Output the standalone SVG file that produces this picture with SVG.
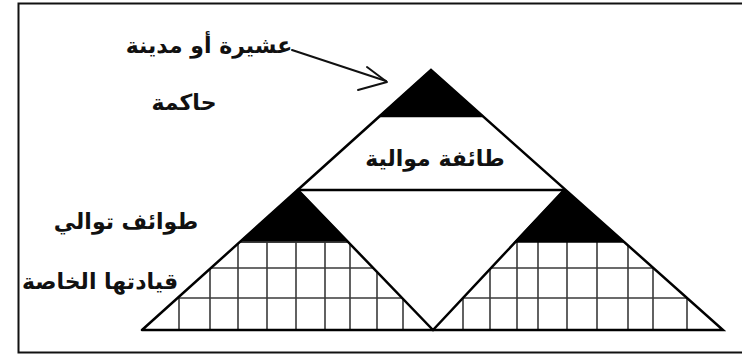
<svg xmlns="http://www.w3.org/2000/svg" width="742" height="355" viewBox="0 0 742 355">
<style>
.edge{fill:none;stroke:#000;stroke-width:2.5;stroke-linejoin:miter;stroke-linecap:round}
.cap{fill:#000;stroke:#000;stroke-width:1.5;stroke-linejoin:miter}
.grid{stroke:#3a3a3a;stroke-width:1.6;fill:none}
.lbl{font-family:"DejaVu Sans","Noto Sans",sans-serif;font-weight:bold;font-size:22px;fill:#111;text-anchor:middle}
.conn{fill:none;stroke:#111;stroke-width:2;stroke-linecap:round;stroke-linejoin:round}
</style>
<defs>
<clipPath id="clipL"><polygon points="239,242 348,242 433,330 142,330"/></clipPath>
<clipPath id="clipR"><polygon points="515,242 624,242 723,330 433,330"/></clipPath>
</defs>
<rect x="18.5" y="3.5" width="740" height="349" fill="#fff" stroke="#111" stroke-width="2"/>

<g id="left-pyramid">
<g clip-path="url(#clipL)" class="grid">
<line x1="130" y1="268" x2="440" y2="268"/>
<line x1="130" y1="298" x2="440" y2="298"/>
<line x1="179" y1="240" x2="179" y2="332"/>
<line x1="210" y1="240" x2="210" y2="332"/>
<line x1="238" y1="240" x2="238" y2="332"/>
<line x1="267" y1="240" x2="267" y2="332"/>
<line x1="296" y1="240" x2="296" y2="332"/>
<line x1="325" y1="240" x2="325" y2="332"/>
<line x1="350" y1="240" x2="350" y2="332"/>
<line x1="377" y1="240" x2="377" y2="332"/>
<line x1="403" y1="240" x2="403" y2="332"/>
</g>
<polygon class="cap" points="298,190 348,242 240,242"/>
<line class="grid" x1="240" y1="242" x2="348" y2="242"/>
</g>

<g id="right-pyramid">
<g clip-path="url(#clipR)" class="grid">
<line x1="420" y1="268" x2="730" y2="268"/>
<line x1="420" y1="298" x2="730" y2="298"/>
<line x1="463" y1="240" x2="463" y2="332"/>
<line x1="490" y1="240" x2="490" y2="332"/>
<line x1="517" y1="240" x2="517" y2="332"/>
<line x1="538" y1="240" x2="538" y2="332"/>
<line x1="567" y1="240" x2="567" y2="332"/>
<line x1="597" y1="240" x2="597" y2="332"/>
<line x1="628" y1="240" x2="628" y2="332"/>
<line x1="653" y1="240" x2="653" y2="332"/>
<line x1="687" y1="240" x2="687" y2="332"/>
</g>
<polygon class="cap" points="564,190 624,242 515,242"/>
</g>

<g id="top-cap">
<polygon class="cap" points="431,70 482,116 380,116"/>
<line class="edge" x1="380" y1="116" x2="482" y2="116"/>
</g>

<g id="middle-band">
<line class="edge" x1="298" y1="190" x2="564" y2="190"/>
</g>

<g id="outline">
<polyline class="edge" points="142,330 431,70 723,330 142,330"/>
<polyline class="edge" points="298,190 433,330 564,190"/>
</g>

<g id="labels">
<text class="lbl" x="209" y="53">عشيرة أو مدينة</text>
<text class="lbl" x="184" y="110">حاكمة</text>
<text class="lbl" x="435" y="166">طائفة موالية</text>
<text class="lbl" x="126" y="229">طوائف توالي</text>
<text class="lbl" x="100" y="289">قيادتها الخاصة</text>
</g>

<g id="connectors">
<line class="conn" x1="292" y1="50" x2="386" y2="81"/>
<polyline class="conn" points="367,67 387,82 358,90"/>
</g>
</svg>
